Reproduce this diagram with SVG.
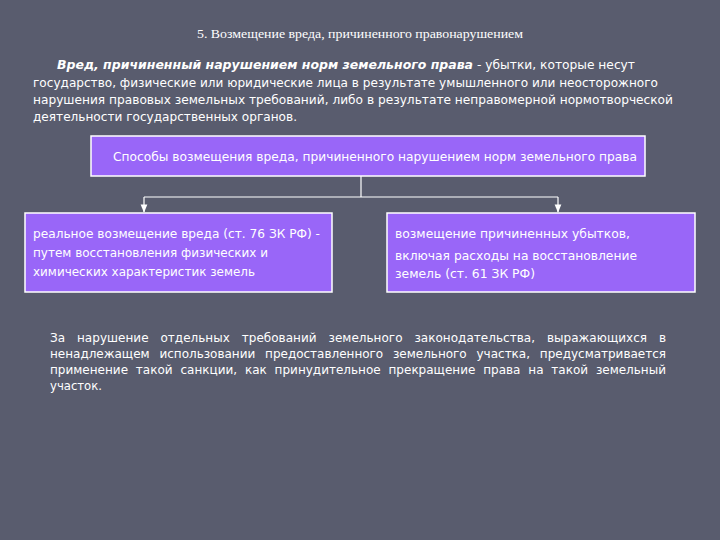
<svg xmlns="http://www.w3.org/2000/svg" width="720" height="540" viewBox="0 0 720 540">
<defs>
<style>
.t{font-family:"DejaVu Sans","Noto Sans",sans-serif;font-size:12px;fill:#ffffff}
.ti{font-family:"Liberation Serif","Times New Roman",serif;font-size:13px;fill:#ffffff}
.bi{font-weight:bold;font-style:italic}
.box{fill:#9966f8;stroke:#ffffff;stroke-width:1.5}
.con{stroke:#ffffff;stroke-width:1.2;fill:none}
</style>
<marker id="ah" viewBox="0 0 10 10" refX="9" refY="5" markerWidth="7" markerHeight="7" orient="auto">
<path d="M0,1 L10,5 L0,9 Z" fill="#ffffff"/>
</marker>
</defs>
<rect x="0" y="0" width="720" height="540" fill="#595c6e"/>
<text class="ti" x="197" y="38" textLength="326" lengthAdjust="spacingAndGlyphs">5. Возмещение вреда, причиненного правонарушением</text>
<g id="intro">
<text class="t" x="57" y="69"><tspan class="bi" textLength="416" lengthAdjust="spacingAndGlyphs">Вред, причиненный нарушением норм земельного права</tspan></text>
<text class="t" x="477" y="69" textLength="158" lengthAdjust="spacingAndGlyphs">- убытки, которые несут</text>
<text class="t" x="33" y="87" textLength="625" lengthAdjust="spacingAndGlyphs">государство, физические или юридические лица в результате умышленного или неосторожного</text>
<text class="t" x="33" y="104" textLength="640" lengthAdjust="spacingAndGlyphs">нарушения правовых земельных требований, либо в результате неправомерной нормотворческой</text>
<text class="t" x="33" y="121" textLength="264" lengthAdjust="spacingAndGlyphs">деятельности государственных органов.</text>
</g>
<g id="connectors">
<path class="con" d="M361,176 V197"/>
<path class="con" d="M144,197 H558"/>
<path class="con" d="M144,197 V212" marker-end="url(#ah)"/>
<path class="con" d="M558,197 V212" marker-end="url(#ah)"/>
</g>
<g id="top">
<rect class="box" x="91" y="136" width="554" height="40"/>
<text class="t" x="113" y="161" textLength="524" lengthAdjust="spacingAndGlyphs">Способы возмещения вреда, причиненного нарушением норм  земельного права</text>
</g>
<g id="left">
<rect class="box" x="25" y="213" width="307" height="79"/>
<text class="t" x="33" y="238" textLength="287" lengthAdjust="spacingAndGlyphs">реальное возмещение вреда (ст. 76 ЗК РФ) -</text>
<text class="t" x="33" y="257" textLength="235" lengthAdjust="spacingAndGlyphs">путем восстановления физических и</text>
<text class="t" x="33" y="276" textLength="222" lengthAdjust="spacingAndGlyphs">химических характеристик земель</text>
</g>
<g id="right">
<rect class="box" x="387" y="213" width="308" height="79"/>
<text class="t" x="395" y="238" textLength="235" lengthAdjust="spacingAndGlyphs">возмещение причиненных убытков,</text>
<text class="t" x="395" y="260" textLength="242" lengthAdjust="spacingAndGlyphs">включая расходы на восстановление</text>
<text class="t" x="395" y="278" textLength="140" lengthAdjust="spacingAndGlyphs">земель (ст. 61 ЗК РФ)</text>
</g>
<g id="outro">
<text class="t" x="50" y="342" textLength="616" lengthAdjust="spacing" word-spacing="8">За нарушение отдельных требований земельного законодательства, выражающихся в</text>
<text class="t" x="50" y="358" textLength="616" lengthAdjust="spacing" word-spacing="6">ненадлежащем использовании предоставленного земельного участка, предусматривается</text>
<text class="t" x="50" y="374" textLength="616" lengthAdjust="spacing" word-spacing="4">применение такой санкции, как принудительное прекращение права на такой земельный</text>
<text class="t" x="50" y="390" textLength="52" lengthAdjust="spacingAndGlyphs">участок.</text>
</g>
</svg>
